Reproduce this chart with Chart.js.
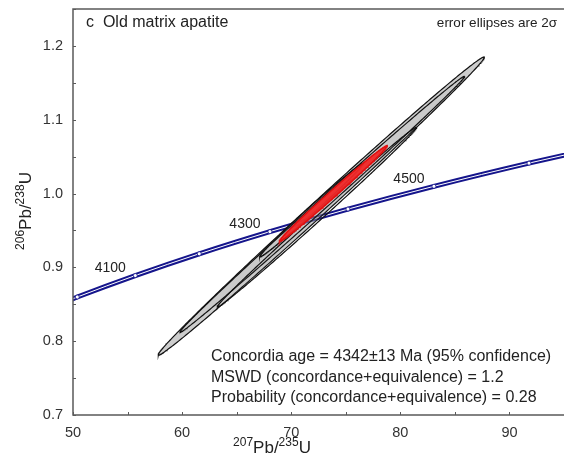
<!DOCTYPE html>
<html>
<head>
<meta charset="utf-8">
<script src="https://cdn.jsdelivr.net/npm/chart.js@4.4.0/dist/chart.umd.min.js"></script>
<style>
  html, body { margin: 0; padding: 0; background: #fff; }
  #wrap { width: 564px; height: 457px; position: relative; }
</style>
</head>
<body>
<div id="wrap"><canvas id="myChart"></canvas></div>
<script>
// concordia curve (ages in Ma)
const concordiaAges = [3900, 4000, 4100, 4200, 4300, 4400, 4500, 4600, 4700];
const concordiaX = [45.57, 50.39, 55.71, 61.57, 68.05, 75.20, 83.08, 91.79, 101.39];
const concordiaY = [0.8312, 0.8598, 0.8889, 0.9184, 0.9484, 0.9789, 1.0098, 1.0412, 1.0732];
const labelledAges = [4100, 4300, 4500];

// grain error ellipses (2 sigma): centre, half widths, correlation
const grainX = [72.75, 72.85, 72.35, 71.85];
const grainY = [0.983, 0.9855, 0.968, 0.9775];
const grainSx = [14.95, 13.05, 9.15, 4.75];
const grainSy = [0.202, 0.1735, 0.122, 0.0635];
const grainRho = [0.9977, 0.9986, 0.9978, 0.995];

// concordia age ellipse (red)
const meanX = 73.85;
const meanY = 1.0;
const meanSx = 4.95;
const meanSy = 0.065;
const meanRho = 0.9952;

const xTicks = [50, 60, 70, 80, 90];
const xMinor = [55, 65, 75, 85, 95];
const yTicks = [0.7, 0.8, 0.9, 1.0, 1.1, 1.2];
const yMinor = [0.75, 0.85, 0.95, 1.05, 1.15, 1.25];

const statsLines = [
    'Concordia age = 4342\u00b113 Ma (95% confidence)',
    'MSWD (concordance+equivalence) = 1.2',
    'Probability (concordance+equivalence) = 0.28'
];

const FONT = '"Liberation Sans", Arial, sans-serif';
const BLUE = '#15158c';

// outline of an error ellipse in data units
function ellipsePoints(cx, cy, sx, sy, rho) {
    const pts = [];
    const k = Math.sqrt(1 - rho * rho);
    for (let i = 0; i <= 360; i++) {
        const t = i / 360 * 2 * Math.PI;
        pts.push({ x: cx + sx * Math.cos(t), y: cy + sy * (rho * Math.cos(t) + k * Math.sin(t)) });
    }
    return pts;
}

const concordiaData = concordiaX.map((x, i) => ({ x: x, y: concordiaY[i] }));

const datasets = [];
datasets.push({
    data: concordiaData, showLine: true, borderColor: BLUE, borderWidth: 5,
    pointRadius: 0, cubicInterpolationMode: 'monotone', order: 20
});
datasets.push({
    data: concordiaData, showLine: true, borderColor: '#ffffff', borderWidth: 1,
    pointRadius: 2, pointBackgroundColor: '#ffffff', pointBorderColor: BLUE, pointBorderWidth: 0.8,
    cubicInterpolationMode: 'monotone', order: 19
});
grainX.forEach((cx, i) => {
    datasets.push({
        data: ellipsePoints(cx, grainY[i], grainSx[i], grainSy[i], grainRho[i]),
        showLine: true, fill: 'shape', tension: 0,
        backgroundColor: i === 0 ? 'rgba(150,150,150,0.48)' : 'rgba(150,150,150,0.06)',
        borderColor: '#111111', borderWidth: 1.2, pointRadius: 0, order: 10 - i
    });
});
datasets.push({
    data: ellipsePoints(meanX, meanY, meanSx, meanSy, meanRho),
    showLine: true, fill: 'shape', tension: 0,
    backgroundColor: 'rgba(240,40,40,0.95)', borderColor: '#e01010', borderWidth: 1.5,
    pointRadius: 0, order: 1
});

// frame, inward ticks and all the annotation text
const annotations = {
    id: 'annotations',
    afterDraw(chart) {
        const ctx = chart.ctx;
        const a = chart.chartArea;
        const xs = chart.scales.x;
        const ys = chart.scales.y;
        ctx.save();
        ctx.strokeStyle = '#5a5a5a';
        ctx.lineWidth = 1.5;
        ctx.beginPath();
        ctx.moveTo(a.right, a.top);
        ctx.lineTo(a.left, a.top);
        ctx.lineTo(a.left, a.bottom);
        ctx.lineTo(a.right, a.bottom);
        ctx.stroke();

        ctx.lineWidth = 1;
        ctx.beginPath();
        xTicks.concat(xMinor).forEach(v => {
            const px = Math.round(xs.getPixelForValue(v)) + 0.5;
            ctx.moveTo(px, a.bottom);
            ctx.lineTo(px, a.bottom - 3);
        });
        yTicks.concat(yMinor).forEach(v => {
            const py = Math.round(ys.getPixelForValue(v)) + 0.5;
            ctx.moveTo(a.left, py);
            ctx.lineTo(a.left + 3, py);
        });
        ctx.stroke();

        ctx.fillStyle = '#222';
        ctx.textBaseline = 'middle';

        // age labels beside the concordia
        ctx.font = '14px ' + FONT;
        ctx.textAlign = 'center';
        labelledAges.forEach(age => {
            const i = concordiaAges.indexOf(age);
            const px = xs.getPixelForValue(concordiaX[i]);
            const py = ys.getPixelForValue(concordiaY[i]);
            ctx.fillText(String(age), px - 25, py - 7);
        });

        // panel title and note
        ctx.textAlign = 'left';
        ctx.font = '16px ' + FONT;
        ctx.fillText('c  Old matrix apatite', a.left + 13, a.top + 14);
        ctx.textAlign = 'right';
        ctx.font = '13.5px ' + FONT;
        ctx.fillText('error ellipses are 2\u03c3', 557, a.top + 14);

        // result block
        ctx.textAlign = 'left';
        ctx.font = '16px ' + FONT;
        statsLines.forEach((s, i) => ctx.fillText(s, 211, 357 + i * 20.5));

        // axis titles with superscript isotopes
        drawIsotopeTitle(ctx, 272, 453, '207', 'Pb/', '235', 'U');
        ctx.translate(31, 211);
        ctx.rotate(-Math.PI / 2);
        drawIsotopeTitle(ctx, 0, 0, '206', 'Pb/', '238', 'U');
        ctx.restore();
    }
};

function drawIsotopeTitle(ctx, cx, baseY, sup1, main1, sup2, main2) {
    const big = '17px ' + FONT;
    const small = '12px ' + FONT;
    const parts = [[sup1, small, -7], [main1, big, 0], [sup2, small, -7], [main2, big, 0]];
    let total = 0;
    parts.forEach(p => { ctx.font = p[1]; total += ctx.measureText(p[0]).width; });
    let x = cx - total / 2;
    ctx.textAlign = 'left';
    ctx.textBaseline = 'alphabetic';
    parts.forEach(p => {
        ctx.font = p[1];
        ctx.fillText(p[0], x, baseY + p[2]);
        x += ctx.measureText(p[0]).width;
    });
}

const ctx = document.getElementById('myChart').getContext('2d');
new Chart(ctx, {
    type: 'scatter',
    data: { datasets: datasets },
    options: {
        responsive: true,
        maintainAspectRatio: false,
        animation: false,
        layout: { autoPadding: false, padding: { top: 9, right: -2, left: 0, bottom: 0 } },
        plugins: { legend: { display: false }, tooltip: { enabled: false } },
        scales: {
            x: {
                type: 'linear', min: 50, max: 95,
                grid: { display: false, drawTicks: false },
                border: { display: false },
                afterBuildTicks: s => { s.ticks = xTicks.map(v => ({ value: v })); },
                afterFit: s => { s.height = 42; s.paddingLeft = 0; s.paddingRight = 0; },
                ticks: { padding: 9, color: '#333', font: { family: FONT, size: 14.5 }, callback: v => String(v) }
            },
            y: {
                type: 'linear', min: 0.7, max: 1.25,
                grid: { display: false, drawTicks: false },
                border: { display: false },
                afterBuildTicks: s => { s.ticks = yTicks.map(v => ({ value: v })); },
                afterFit: s => { s.width = 73; s.paddingTop = 0; s.paddingBottom = 0; },
                ticks: { padding: 10, color: '#333', font: { family: FONT, size: 14.5 }, callback: v => v.toFixed(1) }
            }
        }
    },
    plugins: [annotations]
});
</script>
</body>
</html>
